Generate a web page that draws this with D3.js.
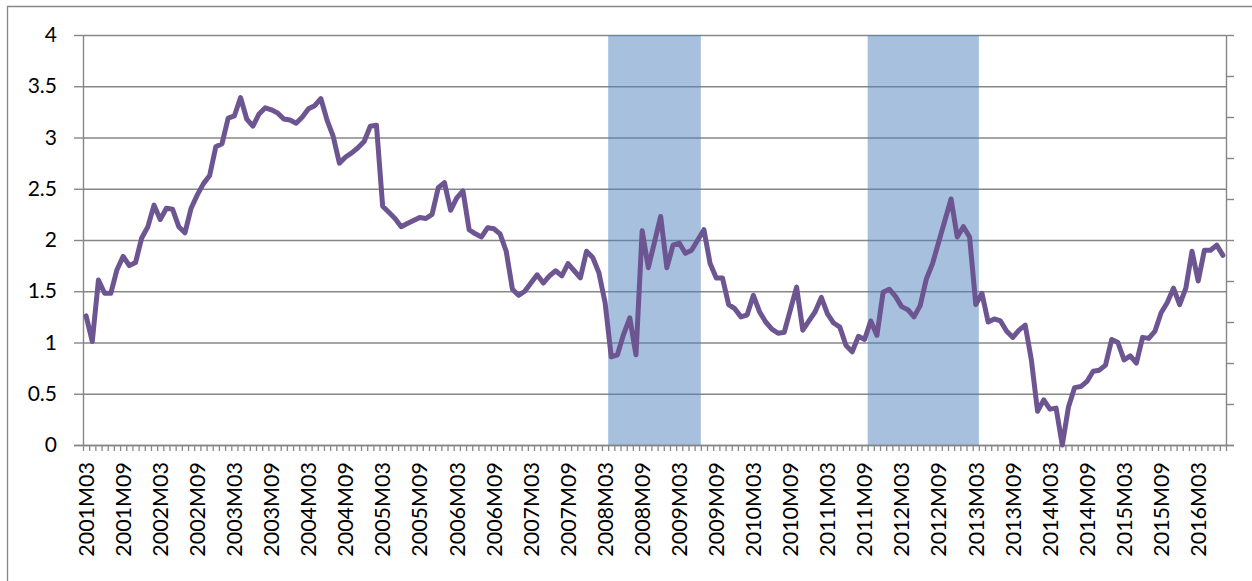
<!DOCTYPE html>
<html>
<head>
<meta charset="utf-8">
<script src="https://cdn.jsdelivr.net/npm/d3@7"></script>
<style>
  body { margin: 0; background: #fff; }
  svg { display: block; }
</style>
</head>
<body>
<svg id="chart" width="1252" height="581"></svg>
<script>
// monthly series, 2001M03 .. 2016M07
const startYear = 2001, startMonth = 3;
const values = [
  1.26, 1.01, 1.61, 1.48, 1.48, 1.71, 1.84, 1.75, 1.78, 2.02,
  2.13, 2.34, 2.20, 2.31, 2.30, 2.13, 2.07, 2.31, 2.44, 2.55,
  2.63, 2.91, 2.94, 3.19, 3.21, 3.39, 3.18, 3.11, 3.23, 3.29,
  3.27, 3.24, 3.18, 3.17, 3.14, 3.20, 3.28, 3.31, 3.38, 3.17,
  3.01, 2.75, 2.81, 2.85, 2.90, 2.96, 3.11, 3.12, 2.33, 2.27,
  2.21, 2.13, 2.16, 2.19, 2.22, 2.21, 2.25, 2.51, 2.56, 2.29,
  2.41, 2.48, 2.10, 2.06, 2.03, 2.12, 2.11, 2.06, 1.89, 1.52,
  1.46, 1.50, 1.58, 1.66, 1.58, 1.65, 1.70, 1.65, 1.77, 1.70,
  1.63, 1.89, 1.83, 1.68, 1.39, 0.86, 0.88, 1.08, 1.24, 0.88,
  2.09, 1.73, 1.98, 2.23, 1.73, 1.95, 1.97, 1.87, 1.90, 2.00,
  2.10, 1.77, 1.63, 1.63, 1.37, 1.33, 1.25, 1.27, 1.46, 1.30,
  1.20, 1.13, 1.09, 1.10, 1.32, 1.54, 1.12, 1.21, 1.30, 1.44,
  1.28, 1.19, 1.15, 0.97, 0.91, 1.06, 1.03, 1.21, 1.07, 1.49,
  1.52, 1.45, 1.35, 1.32, 1.25, 1.36, 1.62, 1.77, 1.98, 2.19,
  2.40, 2.03, 2.13, 2.03, 1.37, 1.48, 1.20, 1.23, 1.21, 1.11,
  1.05, 1.12, 1.17, 0.83, 0.33, 0.44, 0.35, 0.36, 0.00, 0.37,
  0.56, 0.57, 0.62, 0.72, 0.73, 0.78, 1.03, 1.00, 0.83, 0.87,
  0.80, 1.05, 1.04, 1.11, 1.29, 1.39, 1.53, 1.37, 1.53, 1.89,
  1.60, 1.90, 1.90, 1.95, 1.85
];

const tickLabels = [
  "2001M03", "2001M09", "2002M03", "2002M09", "2003M03", "2003M09",
  "2004M03", "2004M09", "2005M03", "2005M09", "2006M03", "2006M09",
  "2007M03", "2007M09", "2008M03", "2008M09", "2009M03", "2009M09",
  "2010M03", "2010M09", "2011M03", "2011M09", "2012M03", "2012M09",
  "2013M03", "2013M09", "2014M03", "2014M09", "2015M03", "2015M09",
  "2016M03"
];

const yTicks = [0, 0.5, 1, 1.5, 2, 2.5, 3, 3.5, 4];

// shaded periods (first and last month)
const shaded = [["2008M04", "2009M06"], ["2011M10", "2013M03"]];

// month labels for every category
const months = values.map((v, i) => {
  const m = startMonth - 1 + i;
  const yr = startYear + Math.floor(m / 12);
  const mm = (m % 12) + 1;
  return yr + "M" + (mm < 10 ? "0" + mm : mm);
});

const svg = d3.select("#chart");
const W = 1252, H = 581;
const plotL = 83, plotR = 1226, plotT = 35, plotB = 445;
const gray = "#878787";

svg.append("rect").attr("width", W).attr("height", H).attr("fill", "#fff");

// outer chart border (cropped)
svg.append("path")
  .attr("d", `M7.5,${H} V6.5 H${W}`)
  .attr("fill", "none").attr("stroke", gray).attr("stroke-width", 1.3);

const x = d3.scaleBand().domain(months).range([plotL, plotR]).padding(0);
const xIdx = d3.scaleLinear().domain([0, months.length]).range([plotL, plotR]);
const y = d3.scaleLinear().domain([0, 4]).range([plotB, plotT]);
const y2 = d3.scaleLinear().domain([0, 10]).range([plotB, plotT]);

// gridlines
svg.append("g")
  .attr("transform", `translate(${plotL},0)`)
  .call(d3.axisLeft(y).tickValues(yTicks).tickSize(-(plotR - plotL)).tickFormat(""))
  .call(g => g.select(".domain").remove())
  .call(g => g.selectAll("line").attr("stroke", gray).attr("stroke-width", 1.4));

// shaded periods
svg.append("g").selectAll("rect")
  .data(shaded)
  .join("rect")
  .attr("x", d => x(d[0]))
  .attr("width", d => x(d[1]) + x.bandwidth() - x(d[0]))
  .attr("y", y(4))
  .attr("height", y(0) - y(4))
  .attr("fill", "#4F81BD")
  .attr("fill-opacity", 0.5);

// left axis
const yAxis = svg.append("g")
  .attr("transform", `translate(${plotL},0)`)
  .call(d3.axisLeft(y).tickValues(yTicks).tickSize(9).tickPadding(17).tickSizeOuter(0)
    .tickFormat(d3.format("")));
yAxis.selectAll("path, line").attr("stroke", gray).attr("stroke-width", 1.4);
yAxis.selectAll("text")
  .attr("fill", "#000")
  .style("font-family", "Lato, 'Open Sans', sans-serif")
  .style("font-size", "21px");

// right axis (no labels)
const y2Axis = svg.append("g")
  .attr("transform", `translate(${plotR},0)`)
  .call(d3.axisRight(y2).ticks(10).tickSize(8).tickSizeOuter(0).tickFormat(""));
y2Axis.selectAll("path, line").attr("stroke", gray).attr("stroke-width", 1.4);

// bottom axis, a tick between every month
const xAxis = svg.append("g")
  .attr("transform", `translate(0,${plotB})`)
  .call(d3.axisBottom(xIdx).tickValues(d3.range(0, months.length + 1)).tickSize(6)
    .tickSizeOuter(0).tickFormat(""));
xAxis.select(".domain").attr("d", `M${plotL - 9},0.5H${plotR + 8}`);
xAxis.selectAll("path, line").attr("stroke", gray).attr("stroke-width", 1.3);

// rotated month labels
svg.append("g").selectAll("text")
  .data(tickLabels)
  .join("text")
  .attr("transform", d => `translate(${x(d) + x.bandwidth() / 2},462) rotate(-90)`)
  .attr("dy", "0.36em")
  .attr("text-anchor", "end")
  .attr("fill", "#000")
  .style("font-family", "Lato, 'Open Sans', sans-serif")
  .style("font-size", "21.5px")
  .text(d => d);

// series line
const line = d3.line()
  .x((d, i) => x(months[i]) + x.bandwidth() / 2)
  .y(d => y(d));

svg.append("path")
  .datum(values)
  .attr("d", line)
  .attr("fill", "none")
  .attr("stroke", "#6C5591")
  .attr("stroke-width", 5)
  .attr("stroke-linejoin", "round")
  .attr("stroke-linecap", "round");
</script>
</body>
</html>
